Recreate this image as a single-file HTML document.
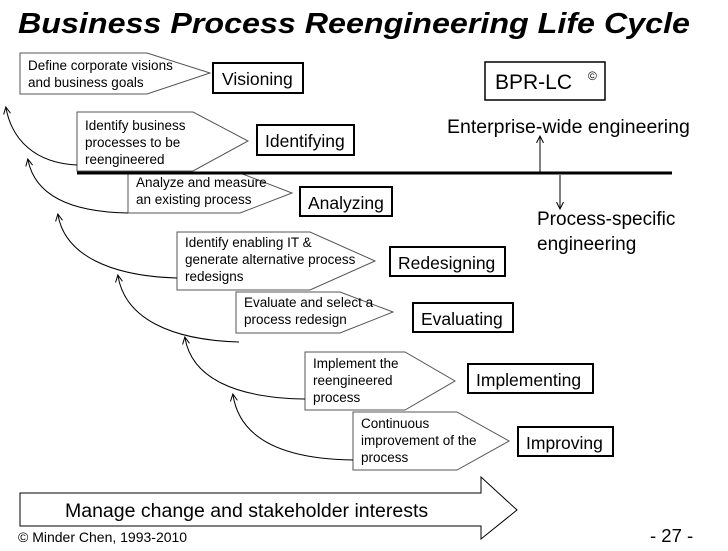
<!DOCTYPE html>
<html><head><meta charset="utf-8"><style>
body{margin:0;background:#fff;}
svg text{font-family:"Liberation Sans",sans-serif;}
</style></head><body>
<svg width="728" height="546" viewBox="0 0 728 546" xmlns="http://www.w3.org/2000/svg">
<defs><marker id="ah" markerWidth="8" markerHeight="8" refX="6" refY="4" orient="auto" markerUnits="userSpaceOnUse"><path d="M0,0.5 L7,4 L0,7.5" fill="none" stroke="#000" stroke-width="1"/></marker></defs>
<text x="18" y="33" font-size="29" font-weight="bold" font-style="italic" textLength="672" lengthAdjust="spacingAndGlyphs">Business Process Reengineering Life Cycle</text>
<g fill="#fff" stroke="#555" stroke-width="1">
<polygon points="20,53 147,53 210,73 147,94 20,94"/>
<polygon points="77,112 193,112 248,141 193,171 77,171"/>
<polygon points="128,173 240,173 292,193 240,213 128,213"/>
<polygon points="177,232 310,232 375,261 310,290 177,290"/>
<polygon points="236,292 340,292 393,312 340,333 236,333"/>
<polygon points="305,352 405,352 455,381 405,410 305,410"/>
<polygon points="353,412 457,412 509,441 457,470 353,470"/>
</g>
<line x1="77" y1="173" x2="672" y2="173" stroke="#000" stroke-width="3"/>
<g fill="#fff" stroke="#000" stroke-width="2">
<rect x="213" y="63" width="90" height="30"/>
<rect x="257" y="125" width="97" height="30"/>
<rect x="300" y="187" width="92" height="29"/>
<rect x="390" y="247" width="115" height="29"/>
<rect x="413" y="303" width="100" height="29"/>
<rect x="468" y="364" width="125" height="29"/>
<rect x="518" y="427" width="95" height="29"/>
<rect x="485" y="62" width="120" height="38" stroke-width="1.5"/>
</g>
<g font-size="17.5">
<text x="222" y="85">Visioning</text>
<text x="265" y="147">Identifying</text>
<text x="308" y="209">Analyzing</text>
<text x="398" y="269">Redesigning</text>
<text x="421" y="325">Evaluating</text>
<text x="476" y="386">Implementing</text>
<text x="526" y="449">Improving</text>
</g>
<text x="495" y="89" font-size="21">BPR-LC</text>
<text x="588" y="80" font-size="12">©</text>
<g font-size="13.5">
<text x="28" y="70">Define corporate visions</text><text x="28" y="87">and business goals</text>
<text x="85" y="130">Identify business</text><text x="85" y="147">processes to be</text><text x="85" y="164">reengineered</text>
<text x="136" y="187">Analyze and measure</text><text x="136" y="204">an existing process</text>
<text x="185" y="247">Identify enabling IT &amp;</text><text x="185" y="264">generate alternative process</text><text x="185" y="281">redesigns</text>
<text x="244" y="307">Evaluate and select a</text><text x="244" y="324">process redesign</text>
<text x="313" y="368">Implement the</text><text x="313" y="385">reengineered</text><text x="313" y="402">process</text>
<text x="361" y="428">Continuous</text><text x="361" y="445">improvement of the</text><text x="361" y="462">process</text>
</g>
<g fill="none" stroke="#000" stroke-width="1" marker-end="url(#ah)">
<path d="M77,165 C35,163 12,140 6,108"/>
<path d="M128,213 C70,212 35,195 28,160"/>
<path d="M177,278 C110,276 65,255 58,215"/>
<path d="M239,342 C170,340 125,318 118,276"/>
<path d="M305,399 C235,398 192,378 185,338"/>
<path d="M353,460 C285,459 240,440 233,395"/>
<path d="M540,172 L540,137"/>
<path d="M560,175 L560,208"/>
</g>
<text x="447" y="133" font-size="19.5">Enterprise-wide engineering</text>
<text x="537" y="225" font-size="19">Process-specific</text>
<text x="537" y="250" font-size="19">engineering</text>
<polygon points="20,493 481,493 481,477 517,510 481,539 481,526 20,526" fill="#fff" stroke="#000" stroke-width="1"/>
<text x="65" y="517" font-size="19.5">Manage change and stakeholder interests</text>
<text x="18" y="542" font-size="14">© Minder Chen, 1993-2010</text>
<text x="650" y="542" font-size="18.5">- 27 -</text>
</svg>
</body></html>
